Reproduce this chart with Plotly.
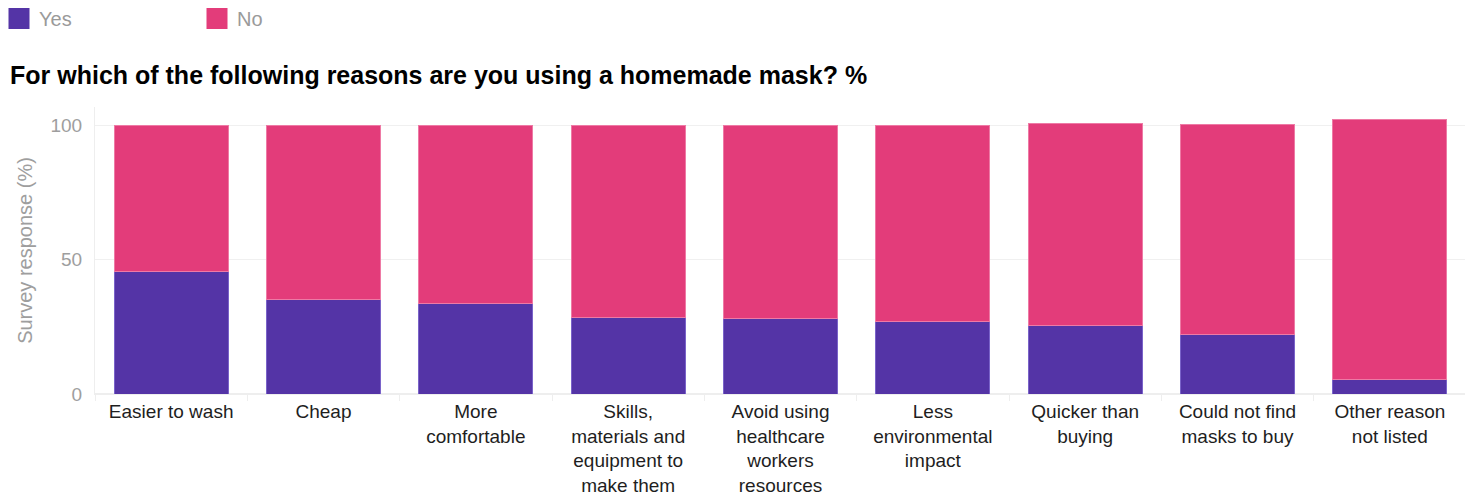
import plotly.graph_objects as go

categories = [
    "Easier to wash",
    "Cheap",
    "More<br>comfortable",
    "Skills,<br>materials and<br>equipment to<br>make them",
    "Avoid using<br>healthcare<br>workers<br>resources",
    "Less<br>environmental<br>impact",
    "Quicker than<br>buying",
    "Could not find<br>masks to buy",
    "Other reason<br>not listed",
]
yes_values = [45.4, 35.0, 33.5, 28.3, 27.9, 26.8, 25.5, 22.3, 5.5]
no_values = [54.6, 65.0, 66.5, 71.7, 72.1, 73.2, 75.1, 77.8, 96.4]
y_ticks = [0, 50, 100]

purple = "#5434a6"
pink = "#e33c7a"
font_family = "Liberation Sans, Arial, sans-serif"

W, H = 1465, 492
L, R, T, B = 87, 7, 99, 106
PW, PH = W - L - R, H - T - B

fig = go.Figure()
fig.add_trace(go.Bar(x=categories, y=yes_values, name="Yes",
                     marker=dict(color=purple, line=dict(color="#7a63c9", width=1)),
                     showlegend=False))
fig.add_trace(go.Bar(x=categories, y=no_values, name="No",
                     marker=dict(color=pink, line=dict(color="#ee7aa5", width=1)),
                     showlegend=False))
# legend-only entries with large square swatches
fig.add_trace(go.Scatter(x=[None], y=[None], mode="markers", name="Yes",
                         marker=dict(symbol="square", size=16, color=purple,
                                     line=dict(color=purple, width=6))))
fig.add_trace(go.Scatter(x=[None], y=[None], mode="markers", name="No",
                         marker=dict(symbol="square", size=16, color=pink,
                                     line=dict(color=pink, width=6))))

fig.update_layout(
    width=W, height=H,
    barmode="stack", bargap=0.25,
    plot_bgcolor="white", paper_bgcolor="white",
    margin=dict(l=L, r=R, t=T, b=B, autoexpand=False),
    font=dict(family=font_family, size=20, color="#000000"),
    title=dict(text="<b>For which of the following reasons are you using a homemade mask? %</b>",
               x=2 / W, xref="container", xanchor="left",
               y=1 - 67 / H, yref="container", yanchor="middle",
               font=dict(size=25, color="#000000", family=font_family)),
    legend=dict(orientation="h", x=(-9 - L) / PW, xref="paper", xanchor="left",
                y=1 + (T + 9) / PH, yref="paper", yanchor="top",
                entrywidth=153, entrywidthmode="pixels",
                itemsizing="trace", traceorder="normal",
                font=dict(size=20, color="#9a9a9a"),
                itemclick=False, itemdoubleclick=False),
)
fig.update_xaxes(
    type="category",
    showgrid=False,
    showline=True, linecolor="#eeeeee", linewidth=1,
    ticks="outside", tickson="boundaries", ticklen=6, tickcolor="#eeeeee",
    tickfont=dict(size=19, color="#1e1e1e"),
    automargin=False,
)
fig.update_yaxes(
    range=[0, 106.7],
    tickvals=y_ticks,
    showgrid=True, gridcolor="#f0f0f0", gridwidth=1,
    zeroline=True, zerolinecolor="#eeeeee",
    showline=True, linecolor="#eeeeee",
    tickfont=dict(size=19, color="#9e9e9e"),
    ticks="", ticklabelstandoff=8,
    title=dict(text="Survey response (%)", font=dict(size=20, color="#9e9e9e"), standoff=12),
    automargin=False,
)

fig.write_html("out.html")
